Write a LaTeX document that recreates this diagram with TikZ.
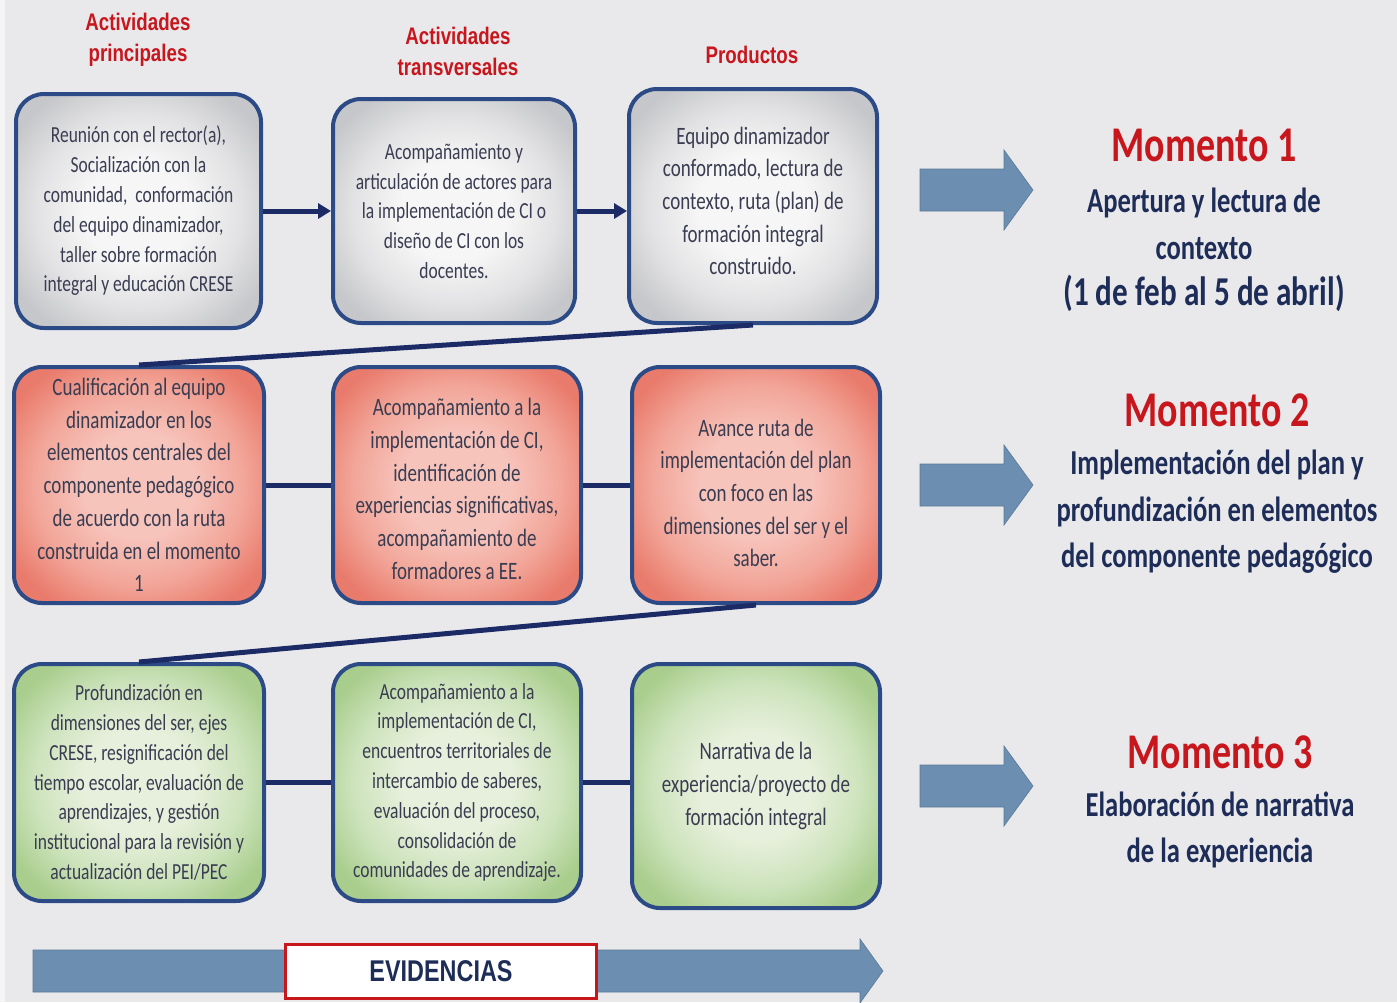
\documentclass[tikz,border=0pt]{standalone}
\usepackage{fontspec}
\setmainfont{Carlito}
\newfontfamily\boxfont[FakeStretch=0.76]{Carlito}
\newfontfamily\headfont[FakeStretch=0.78]{Liberation Sans}
\usetikzlibrary{arrows.meta}
\definecolor{bg}{HTML}{E9E9EC}
\definecolor{hdred}{HTML}{C8161D}
\definecolor{bordernavy}{HTML}{2C4A85}
\definecolor{linenavy}{HTML}{1C2A66}
\definecolor{txt}{HTML}{3A3D52}
\definecolor{subnavy}{HTML}{1E2D58}
\definecolor{steel}{HTML}{6B8EB1}
\definecolor{grayin}{HTML}{F6F6F6}
\definecolor{graymid}{HTML}{E2E2E4}
\definecolor{grayout}{HTML}{C6C7CA}
\definecolor{redin}{HTML}{F7C4BC}
\definecolor{redmid}{HTML}{F2A699}
\definecolor{redout}{HTML}{E97B6C}
\definecolor{greenin}{HTML}{E7F0DC}
\definecolor{greenmid}{HTML}{CDE3BC}
\definecolor{greenout}{HTML}{A8CD8C}
\pgfdeclareradialshading{grayshade}{\pgfpoint{0bp}{0bp}}{color(0bp)=(grayin); color(11bp)=(grayin); color(21bp)=(graymid); color(30bp)=(grayout); color(50bp)=(grayout)}
\pgfdeclareradialshading{redshade}{\pgfpoint{0bp}{0bp}}{color(0bp)=(redin); color(11bp)=(redin); color(21bp)=(redmid); color(30bp)=(redout); color(50bp)=(redout)}
\pgfdeclareradialshading{greenshade}{\pgfpoint{0bp}{0bp}}{color(0bp)=(greenin); color(11bp)=(greenin); color(21bp)=(greenmid); color(30bp)=(greenout); color(50bp)=(greenout)}
\tikzset{
  box/.style={rounded corners=28pt, draw=bordernavy, line width=4pt, align=center,
    text=txt, inner sep=0pt},
  graybox/.style={box, shade, shading=grayshade},
  redbox/.style={box, shade, shading=redshade},
  greenbox/.style={box, shade, shading=greenshade},
  boxtext/.style={align=center, text=txt, inner sep=0pt},
  fsmall/.style={font=\boxfont\fontsize{23}{29.8}\selectfont},
  fbig/.style={font=\boxfont\fontsize{25}{32.7}\selectfont},
  hdr/.style={align=center, text=hdred, font=\headfont\bfseries\fontsize{24}{31}\selectfont},
  link/.style={draw=linenavy, line width=5pt},
  mtitle/.style={text=hdred, font=\boxfont\bfseries\fontsize{50}{56}\selectfont},
  msub/.style={align=center, text=subnavy, font=\boxfont\bfseries\fontsize{35}{46.5}\selectfont},
  blockarrow/.style={fill=steel, draw=steel!85!black, line width=0.6pt},
}
\begin{document}
\begin{tikzpicture}[x=1pt,y=-1pt]
\useasboundingbox (0,0) rectangle (1397,1002);
\fill[bg] (0,0) rectangle (1397,1002);
\fill[white!55!bg] (0,0) rectangle (5,1002);

% headers
\node[hdr] (h1) at (138,40) {Actividades\\principales};
\node[hdr] (h2) at (458,51) {Actividades\\transversales};
\node[hdr] (h3) at (752,55) {Productos};

% row 1
\node[graybox, fsmall, minimum width=245pt, minimum height=234pt] (A1) at (138.5,211)
 {Reunión con el rector(a),\\ Socialización con la\\ comunidad,\ \ conformación\\ del equipo dinamizador,\\ taller sobre formación\\ integral y educación CRESE};
\node[graybox, fsmall, minimum width=242pt, minimum height=224pt] (B1) at (454,211)
 {Acompañamiento y\\ articulación de actores para\\ la implementación de CI o\\ diseño de CI con los\\ docentes.};
\node[graybox, minimum width=248pt, minimum height=234pt] (C1) at (753,206) {};
\node[boxtext, fbig] (C1t) at ([yshift=5pt]C1.center)
 {Equipo dinamizador\\ conformado, lectura de\\ contexto, ruta (plan) de\\ formación integral\\ construido.};

% row 2
\node[redbox, fbig, minimum width=250pt, minimum height=236pt] (A2) at (139,485)
 {Cualificación al equipo\\ dinamizador en los\\ elementos centrales del\\ componente pedagógico\\ de acuerdo con la ruta\\ construida en el momento\\ 1};
\node[redbox, minimum width=248pt, minimum height=236pt] (B2) at (457,485) {};
\node[boxtext, fbig] (B2t) at ([yshift=-4pt]B2.center)
 {Acompañamiento a la\\ implementación de CI,\\ identificación de\\ experiencias significativas,\\ acompañamiento de\\ formadores a EE.};
\node[redbox, minimum width=248pt, minimum height=236pt] (C2) at (756,485) {};
\node[boxtext, fbig] (C2t) at ([yshift=-8pt]C2.center)
 {Avance ruta de\\ implementación del plan\\ con foco en las\\ dimensiones del ser y el\\ saber.};

% row 3
\node[greenbox, fsmall, minimum width=250pt, minimum height=237pt] (A3) at (139,782.5)
 {Profundización en\\ dimensiones del ser, ejes\\ CRESE, resignificación del\\ tiempo escolar, evaluación de\\ aprendizajes, y gestión\\ institucional para la revisión y\\ actualización del PEI/PEC};
\node[greenbox, fsmall, minimum width=248pt, minimum height=237pt] (B3) at (457,782.5)
 {Acompañamiento a la\\ implementación de CI,\\ encuentros territoriales de\\ intercambio de saberes,\\ evaluación del proceso,\\ consolidación de\\ comunidades de aprendizaje.};
\node[greenbox, fbig, minimum width=248pt, minimum height=244pt] (C3) at (756,786)
 {Narrativa de la\\ experiencia/proyecto de\\ formación integral};

% connectors
\draw[link, -{Triangle[length=13pt,width=15pt]}] (A1.east) -- (B1.west);
\draw[link, -{Triangle[length=13pt,width=15pt]}] (B1.east) -- (B1.east -| C1.west);
\draw[link] (C1.south) -- (A2.north);
\draw[link] (A2.east) -- (B2.west);
\draw[link] (B2.east) -- (C2.west);
\draw[link] (C2.south) -- (A3.north);
\draw[link] (A3.east) -- (B3.west);
\draw[link] (B3.east) -- (B3.east -| C3.west);

% block arrows
\foreach \yc in {190,485,786}{
  \path[blockarrow] (920,\yc-21) -- (1004,\yc-21) -- (1004,\yc-40) -- (1033,\yc)
     -- (1004,\yc+40) -- (1004,\yc+21) -- (920,\yc+21) -- cycle;
}

% momentos
\node[mtitle] (m1) at (1204,145) {Momento 1};
\node[msub] (s1) at (1204,250) {Apertura y lectura de\\ contexto\\ {\fontsize{41}{46.5}\selectfont (1 de feb al 5 de abril)}};
\node[mtitle] (m2) at (1217,410) {Momento 2};
\node[msub] (s2) at (1217,512) {Implementación del plan y\\ profundización en elementos\\ del componente pedagógico};
\node[mtitle] (m3) at (1220,752) {Momento 3};
\node[msub] (s3) at (1220,830) {Elaboración de narrativa\\ de la experiencia};

% evidencias bar
\path[blockarrow] (33,950) -- (860,950) -- (860,939) -- (883,971) -- (860,1003)
   -- (860,992) -- (33,992) -- cycle;
\node[draw=hdred, line width=3pt, fill=white, minimum width=311pt, minimum height=54pt,
      text=subnavy, font=\headfont\bfseries\fontsize{30}{34}\selectfont] (ev) at (441,971) {EVIDENCIAS};
\end{tikzpicture}
\end{document}
